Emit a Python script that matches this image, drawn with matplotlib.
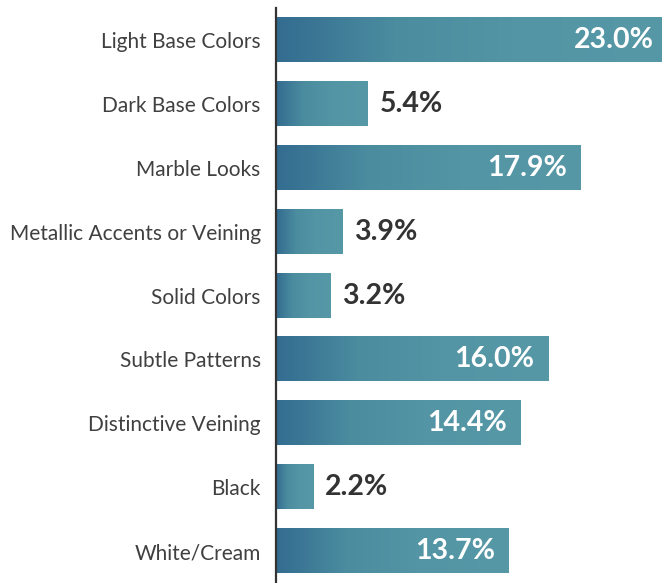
import numpy as np
import matplotlib.pyplot as plt
from matplotlib.colors import LinearSegmentedColormap

categories = ['Light Base Colors', 'Dark Base Colors', 'Marble Looks',
              'Metallic Accents or Veining', 'Solid Colors', 'Subtle Patterns',
              'Distinctive Veining', 'Black', 'White/Cream']
values = [23.0, 5.4, 17.9, 3.9, 3.2, 16.0, 14.4, 2.2, 13.7]

plt.rcParams['font.family'] = ['Lato', 'DejaVu Sans']

fig = plt.figure(figsize=(6.62, 5.83), dpi=100)
ax = fig.add_axes([276 / 662, 0.0, 1 - 276 / 662, 1 - 8 / 583])

# left-to-right blue/teal fade used on every bar
cmap = LinearSegmentedColormap.from_list(
    'bar_grad', [(0.0, '#336c90'), (0.3, '#4b8c9f'), (0.6, '#5395a4'), (1.0, '#5698a6')])
grad = np.linspace(0, 1, 256).reshape(1, -1)

bar_h = 0.69
for i, v in enumerate(values):
    ax.imshow(grad, cmap=cmap, aspect='auto', interpolation='bicubic',
              extent=[0, v, i + bar_h / 2, i - bar_h / 2], zorder=2)
    if v > 10:
        ax.text(v - 0.8, i, f'{v:.1f}%', ha='right', va='center',
                color='white', fontsize=20.5, fontweight='bold', zorder=3)
    else:
        ax.text(v + 0.7, i, f'{v:.1f}%', ha='left', va='center',
                color='#333333', fontsize=20.5, fontweight='bold', zorder=3)

ax.set_xlim(0, 22.7)
ax.set_ylim(len(values) - 0.5, -0.5)
ax.set_yticks(range(len(values)))
ax.set_yticklabels(categories, fontsize=15.0, color='#404040')
ax.set_xticks([])
ax.tick_params(axis='y', length=0, pad=11)

for side in ['top', 'right', 'bottom']:
    ax.spines[side].set_visible(False)
ax.spines['left'].set_color('#333333')
ax.spines['left'].set_linewidth(1.6)
ax.spines['left'].set_zorder(4)

fig.savefig('out.png', dpi=100)
